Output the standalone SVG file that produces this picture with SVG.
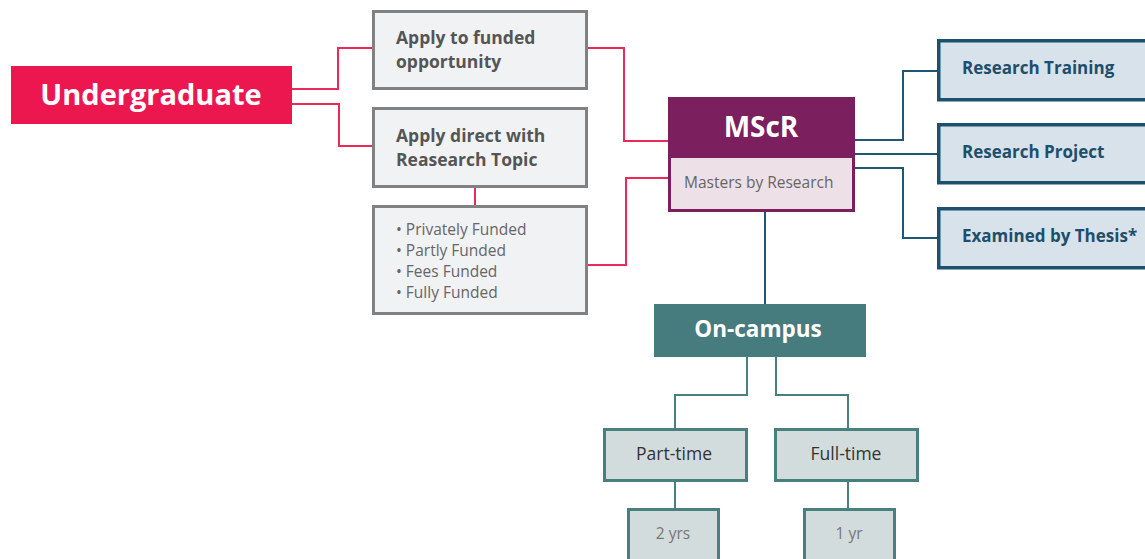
<svg xmlns="http://www.w3.org/2000/svg" width="1145" height="559" viewBox="0 0 1145 559">
<style>
text{font-family:"Open Sans","Noto Sans","DejaVu Sans",sans-serif}
.red{fill:none;stroke:#ec2a58;stroke-width:2}
.blue{fill:none;stroke:#1e5876;stroke-width:2}
.teal{fill:none;stroke:#4a7f80;stroke-width:2}
.gbox{fill:#f1f2f4;stroke:#818181;stroke-width:3}
.gt{font-size:17.5px;font-weight:700;fill:#555}
.lt{font-size:15.5px;fill:#666}
.bbox{fill:#d8e2ea;stroke:#1d506b;stroke-width:3.5}
.bt{font-size:17px;font-weight:700;fill:#1d4f6b}
.tbox{fill:#d3dcdd;stroke:#4a7f80;stroke-width:3}
</style>
<rect width="1145" height="559" fill="#ffffff"/>
<g id="connectors">
<polyline class="red" points="292,89 338,89 338,48 372,48"/>
<polyline class="red" points="292,104 339,104 339,146 372,146"/>
<line class="red" x1="475" y1="188" x2="475" y2="205"/>
<polyline class="red" points="588,48 624,48 624,141 668,141"/>
<polyline class="red" points="588,265 626,265 626,178 668,178"/>
<polyline class="blue" points="855,140 903,140 903,71 937,71"/>
<polyline class="blue" points="855,154 937,154"/>
<polyline class="blue" points="855,168 903,168 903,238 937,238"/>
<line class="blue" x1="765" y1="212" x2="765" y2="304"/>
<polyline class="teal" points="747,357 747,395 675,395 675,428"/>
<polyline class="teal" points="776,357 776,395 848,395 848,428"/>
<line class="teal" x1="675" y1="482" x2="675" y2="508"/>
<line class="teal" x1="848" y1="482" x2="848" y2="508"/>
</g>
<g id="undergraduate">
<rect x="11" y="66" width="281" height="58" fill="#ec174f"/>
<text x="151" y="105" text-anchor="middle" font-size="29" font-weight="700" fill="#ffffff">Undergraduate</text>
</g>
<g id="apply-funded">
<rect class="gbox" x="373.5" y="11.5" width="213" height="77"/>
<text class="gt" x="396" y="44">Apply to funded</text>
<text class="gt" x="396" y="68">opportunity</text>
</g>
<g id="apply-direct">
<rect class="gbox" x="373.5" y="108.5" width="213" height="78"/>
<text class="gt" x="396" y="142">Apply direct with</text>
<text class="gt" x="396" y="166">Reasearch Topic</text>
</g>
<g id="funding">
<rect class="gbox" x="373.5" y="206.5" width="213" height="107"/>
<text class="lt" x="396" y="235">• Privately Funded</text>
<text class="lt" x="396" y="256">• Partly Funded</text>
<text class="lt" x="396" y="277">• Fees Funded</text>
<text class="lt" x="396" y="298">• Fully Funded</text>
</g>
<g id="mscr">
<rect x="668" y="97" width="187" height="115" fill="#7b1f5f"/>
<rect x="671" y="158" width="181" height="51" fill="#ede0e6"/>
<text x="761" y="137" text-anchor="middle" font-size="28" font-weight="700" fill="#ffffff">MScR</text>
<text x="684" y="188" font-size="15.5" fill="#666">Masters by Research</text>
</g>
<g id="research-training">
<rect class="bbox" x="938.75" y="40.75" width="220" height="59"/>
<text class="bt" x="962" y="74">Research Training</text>
</g>
<g id="research-project">
<rect class="bbox" x="938.75" y="124.75" width="220" height="58"/>
<text class="bt" x="962" y="158">Research Project</text>
</g>
<g id="examined">
<rect class="bbox" x="938.75" y="208.75" width="220" height="59"/>
<text class="bt" x="962" y="242">Examined by Thesis*</text>
</g>
<g id="on-campus">
<rect x="654" y="304" width="212" height="53" fill="#477c7e"/>
<text x="758" y="337" text-anchor="middle" font-size="22.5" font-weight="700" fill="#ffffff">On-campus</text>
</g>
<g id="part-time">
<rect class="tbox" x="604.5" y="429.5" width="142" height="51"/>
<text x="674" y="460" text-anchor="middle" font-size="17.5" fill="#333">Part-time</text>
</g>
<g id="full-time">
<rect class="tbox" x="775.5" y="429.5" width="142" height="51"/>
<text x="846" y="460" text-anchor="middle" font-size="17.5" fill="#333">Full-time</text>
</g>
<g id="two-yrs">
<rect class="tbox" x="628.5" y="509.5" width="90" height="60"/>
<text x="673" y="539" text-anchor="middle" font-size="15.5" fill="#777">2 yrs</text>
</g>
<g id="one-yr">
<rect class="tbox" x="804.5" y="509.5" width="90" height="60"/>
<text x="849" y="539" text-anchor="middle" font-size="15.5" fill="#777">1 yr</text>
</g>
</svg>
